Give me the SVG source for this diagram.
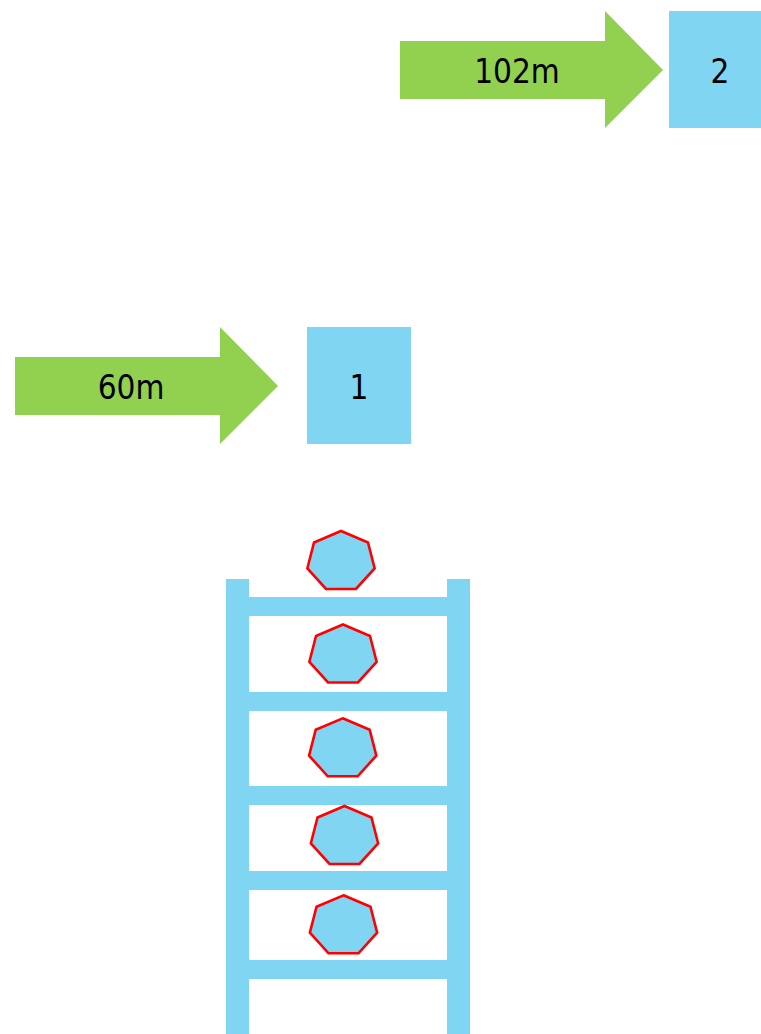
<svg xmlns="http://www.w3.org/2000/svg" xmlns:xlink="http://www.w3.org/1999/xlink" width="761" height="1034" viewBox="0 0 761 1034">
<style>
.arrow{fill:#92D050}
.box{fill:#80D5F3}
.rail{fill:#80D5F3}
.hept{fill:#80D5F3;stroke:#FF0000;stroke-width:2.6;stroke-linejoin:miter}
.lbl{font-family:"DejaVu Sans Condensed","DejaVu Sans",sans-serif;font-size:33px;fill:#000;text-anchor:middle}
</style>
<defs>
<polygon id="hep" class="hept" points="0,-30.5 26.97,-19.02 33.63,6.79 14.97,27.48 -14.97,27.48 -33.63,6.79 -26.97,-19.02"/>
</defs>
<rect width="761" height="1034" fill="#FFFFFF"/>
<g id="arrow-102m">
<polygon class="arrow" points="400,41 605,41 605,11 663,70 605,128 605,99 400,99"/>
<text class="lbl" x="517" y="83">102m</text>
</g>
<g id="node-2">
<rect class="box" x="669" y="11" width="92" height="117"/>
<text class="lbl" x="720" y="83">2</text>
</g>
<g id="arrow-60m">
<polygon class="arrow" points="15,357 220,357 220,327 278,386 220,444 220,415 15,415"/>
<text class="lbl" x="131" y="399">60m</text>
</g>
<g id="node-1">
<rect class="box" x="307" y="327" width="104" height="117"/>
<text class="lbl" x="359" y="399">1</text>
</g>
<g id="ladder">
<rect class="rail" x="226" y="579" width="23" height="455"/>
<rect class="rail" x="447" y="579" width="23" height="455"/>
<rect class="rail" x="249" y="597" width="198" height="19"/>
<rect class="rail" x="249" y="692" width="198" height="19"/>
<rect class="rail" x="249" y="786" width="198" height="19"/>
<rect class="rail" x="249" y="871" width="198" height="19"/>
<rect class="rail" x="249" y="960" width="198" height="19"/>
</g>
<g id="heptagons">
<use xlink:href="#hep" href="#hep" transform="translate(341,561.5)"/>
<use xlink:href="#hep" href="#hep" transform="translate(343,655)"/>
<use xlink:href="#hep" href="#hep" transform="translate(342.7,748.8)"/>
<use xlink:href="#hep" href="#hep" transform="translate(344.5,836.5)"/>
<use xlink:href="#hep" href="#hep" transform="translate(343.5,925.8)"/>
</g>
</svg>
